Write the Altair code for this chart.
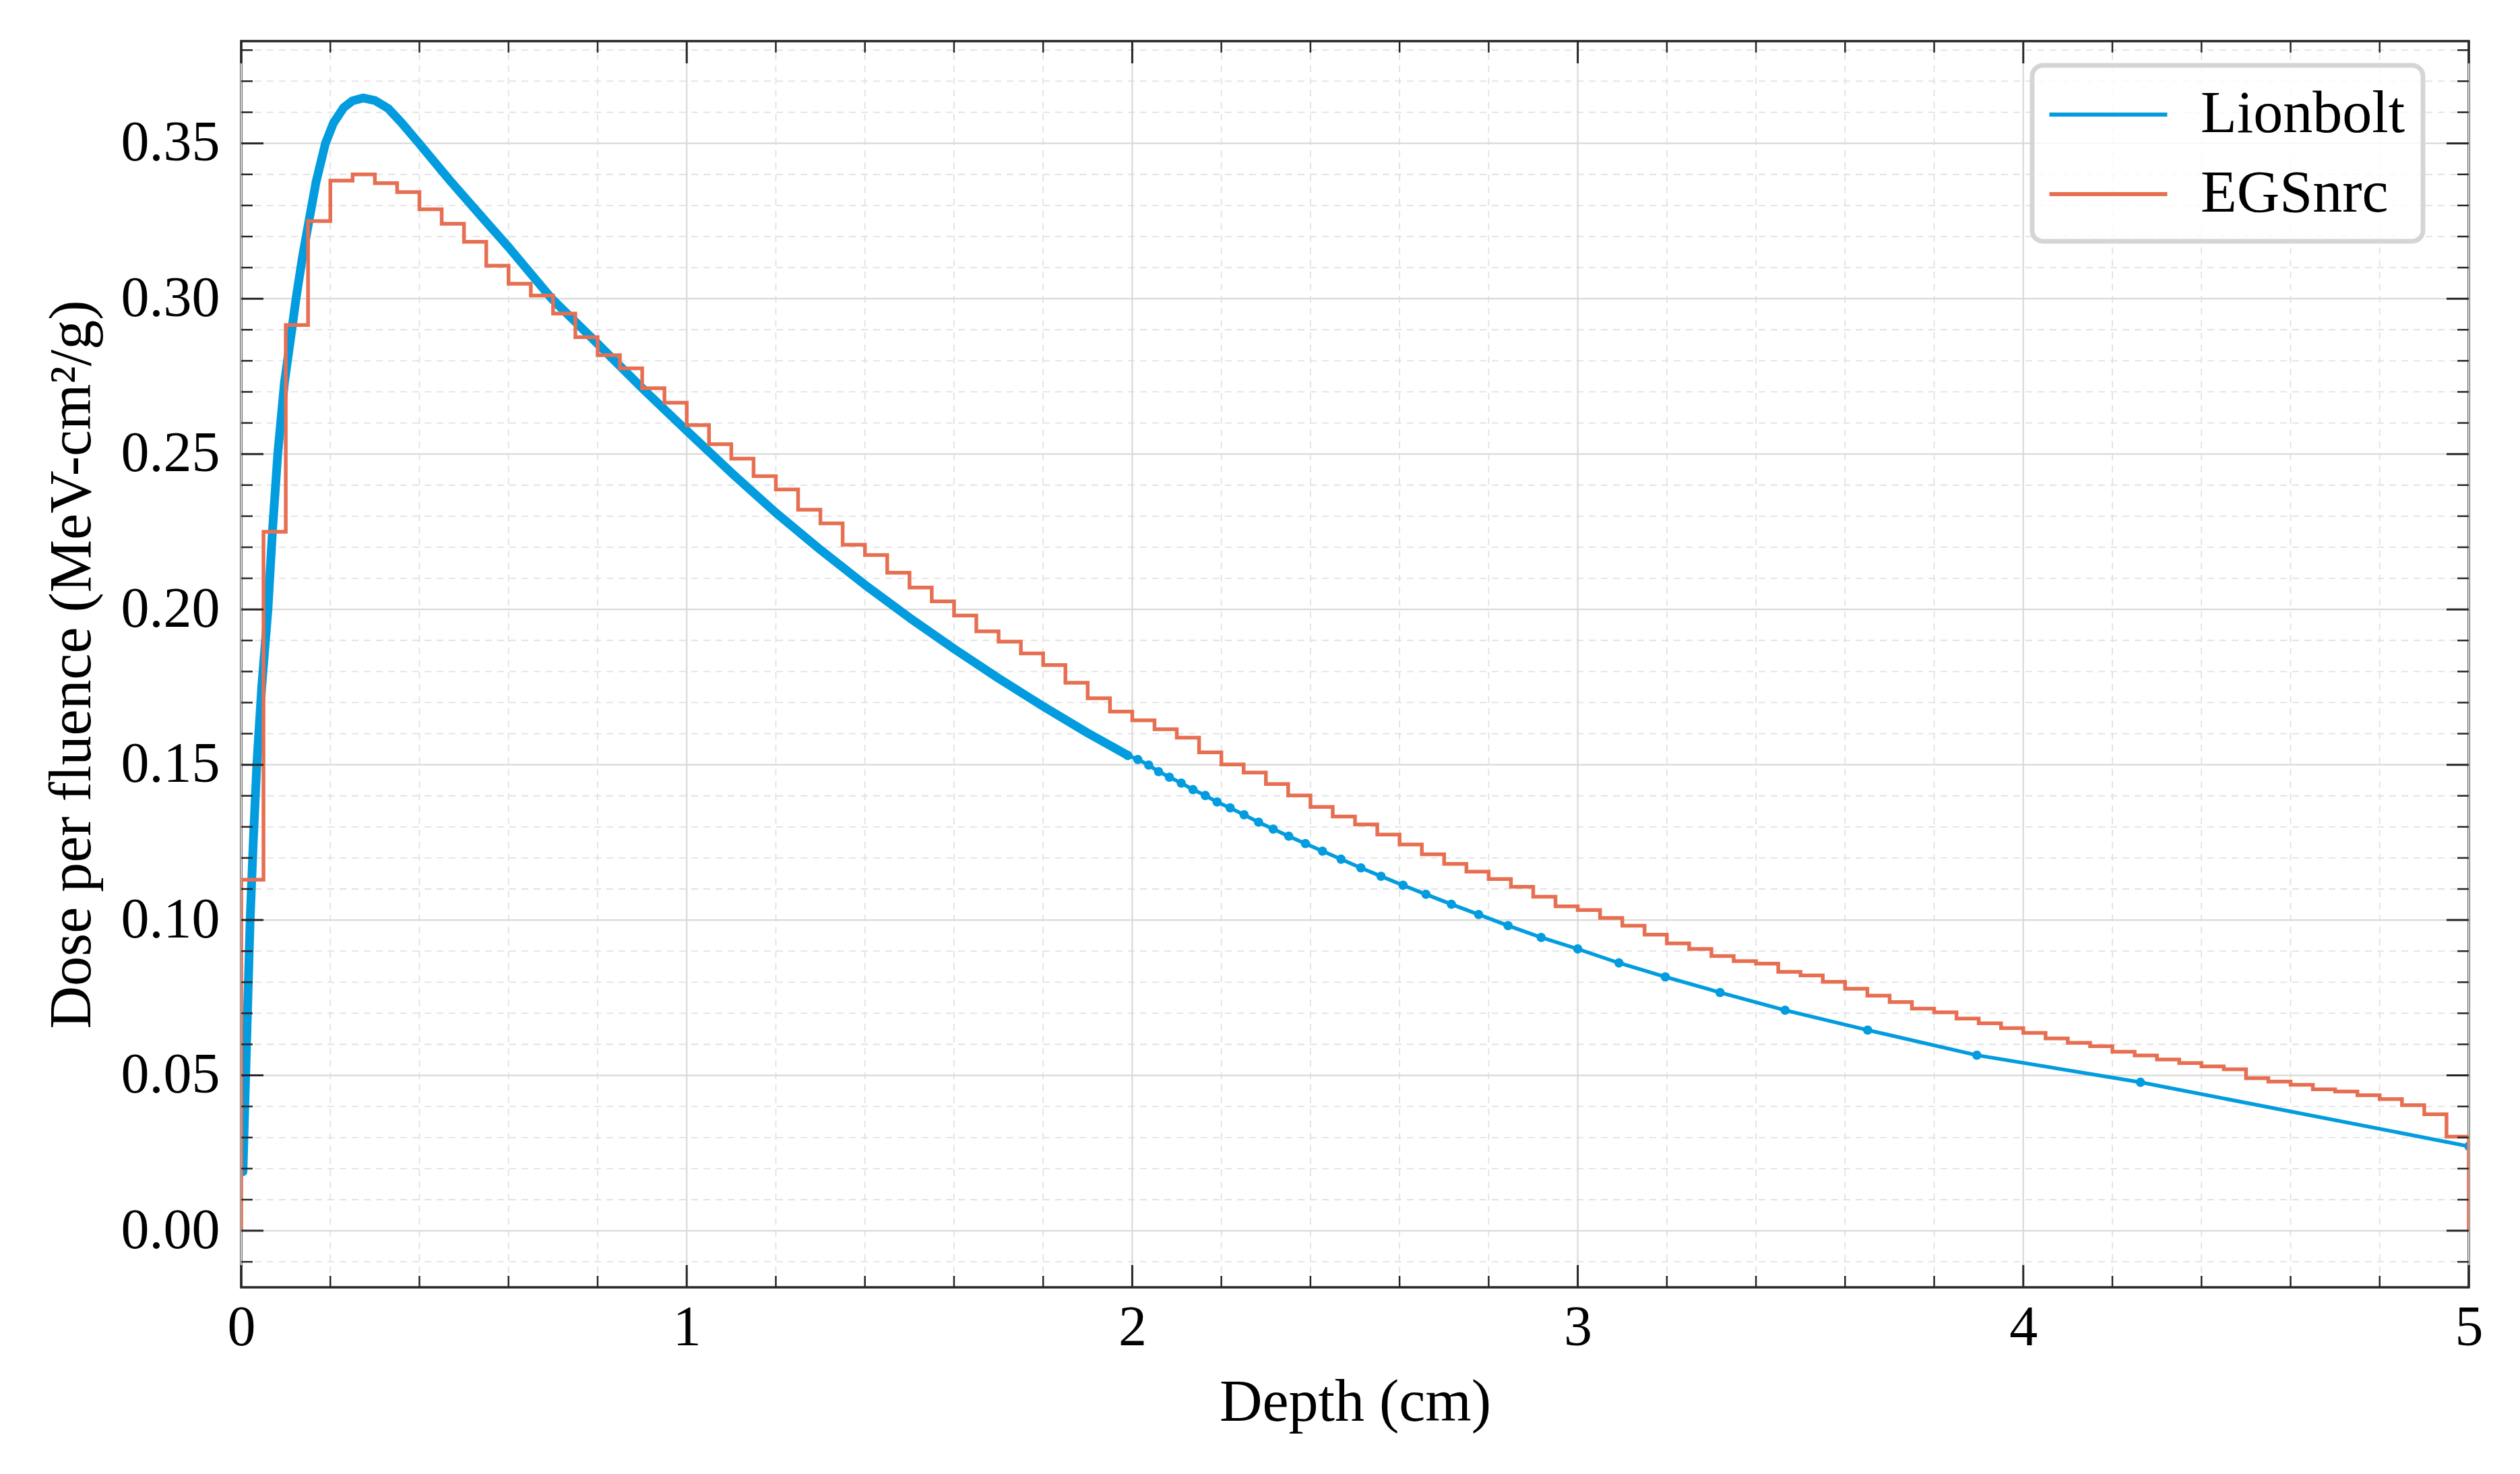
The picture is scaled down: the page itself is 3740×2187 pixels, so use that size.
import altair as alt
import pandas as pd

BLUE = "#039CDE"
ORANGE = "#E76F51"

series_names = ["Lionbolt", "EGSnrc"]

# EGSnrc histogram (0.05 cm bins from 0 to 5 cm)
egs_bin_width = 0.05
egs_dose = [
    0.113, 0.225, 0.2915, 0.325, 0.338, 0.340, 0.3372, 0.3343, 0.3288, 0.3241,
    0.3183, 0.3106, 0.3048, 0.3010, 0.2952, 0.2876, 0.2818, 0.2776, 0.2712, 0.2665,
    0.2593, 0.2532, 0.2485, 0.2429, 0.2386, 0.2321, 0.2277, 0.2208, 0.2175, 0.2118,
    0.2070, 0.2026, 0.1980, 0.1929, 0.1896, 0.1858, 0.1821, 0.1764, 0.1714, 0.1671,
    0.1643, 0.1614, 0.1587, 0.1540, 0.1501, 0.1475, 0.1438, 0.1401, 0.1364, 0.1333,
    0.1308, 0.1275, 0.1243, 0.1212, 0.1181, 0.1156, 0.1132, 0.1107, 0.1075, 0.1044,
    0.1032, 0.1007, 0.0982, 0.0953, 0.0925, 0.0907, 0.0884, 0.0868, 0.0860, 0.0833,
    0.0822, 0.0801, 0.0779, 0.0757, 0.0736, 0.0715, 0.0703, 0.0683, 0.0668, 0.0652,
    0.0637, 0.0619, 0.0605, 0.0594, 0.0576, 0.0564, 0.0551, 0.0540, 0.0529, 0.0520,
    0.0491, 0.0480, 0.0470, 0.0455, 0.0448, 0.0436, 0.0424, 0.0404, 0.0375, 0.0303,
]

# Lionbolt curve (depth in cm, dose per fluence)
lion_depth = [
    0.004, 0.007, 0.010, 0.015, 0.020, 0.027, 0.035, 0.046, 0.060, 0.070,
    0.082, 0.097, 0.115, 0.123, 0.137, 0.152, 0.168, 0.189, 0.207, 0.230,
    0.250, 0.274, 0.300, 0.330, 0.360, 0.399, 0.471, 0.548, 0.600, 0.697,
    0.800, 0.900, 1.000, 1.100, 1.200, 1.300, 1.400, 1.500, 1.600, 1.700,
    1.800, 1.900, 1.990,
    2.0125, 2.0369, 2.0591, 2.0834, 2.1099, 2.1363, 2.1641, 2.1905, 2.2198, 2.2510,
    2.2837, 2.3164, 2.3512, 2.3887, 2.4270, 2.4687, 2.5132, 2.5584, 2.6078, 2.6592,
    2.7163, 2.7775, 2.8435, 2.9179, 3.0000, 3.0924, 3.1965, 3.3194, 3.4653, 3.6507,
    3.8958, 4.263, 5.000,
]
lion_dose = [
    0.019, 0.035, 0.050, 0.075, 0.100, 0.125, 0.150, 0.175, 0.200, 0.225,
    0.250, 0.273, 0.2915, 0.300, 0.313, 0.325, 0.3376, 0.350, 0.3565, 0.3615,
    0.3637, 0.3646, 0.3638, 0.3612, 0.3566, 0.350, 0.3376, 0.325, 0.3166, 0.300,
    0.2855, 0.2712, 0.2575, 0.2440, 0.2311, 0.2192, 0.2079, 0.1973, 0.1873, 0.1778,
    0.1688, 0.1602, 0.1530,
    0.1517, 0.1499, 0.1478, 0.1460, 0.1441, 0.1420, 0.1401, 0.1380, 0.1361, 0.1339,
    0.1315, 0.1293, 0.1270, 0.1246, 0.1222, 0.1196, 0.1168, 0.1141, 0.1112, 0.1083,
    0.1051, 0.1018, 0.0982, 0.0944, 0.0907, 0.0862, 0.0817, 0.0767, 0.0710, 0.0646,
    0.0565, 0.0478, 0.0272,
]

# Axis ticks
x_major = [0, 1, 2, 3, 4, 5]
x_minor = [0.2, 0.4, 0.6, 0.8, 1.2, 1.4, 1.6, 1.8, 2.2, 2.4, 2.6, 2.8,
           3.2, 3.4, 3.6, 3.8, 4.2, 4.4, 4.6, 4.8]
y_major = [0.00, 0.05, 0.10, 0.15, 0.20, 0.25, 0.30, 0.35]
y_minor = [-0.01, 0.01, 0.02, 0.03, 0.04, 0.06, 0.07, 0.08, 0.09, 0.11, 0.12,
           0.13, 0.14, 0.16, 0.17, 0.18, 0.19, 0.21, 0.22, 0.23, 0.24, 0.26,
           0.27, 0.28, 0.29, 0.31, 0.32, 0.33, 0.34, 0.36, 0.37, 0.38]

X_DOMAIN = [0, 5]
Y_DOMAIN = [-0.0182, 0.3829]
W, H = 3306, 1849
FONT = "Liberation Serif"
TICK_COLOR = "#262626"

# ---- build tables ----
edges = [round(i * egs_bin_width, 2) for i in range(len(egs_dose) + 1)]
stairs = [{"depth": 0.0, "dose": 0.0, "k": 0}]
for i, v in enumerate(egs_dose):
    stairs.append({"depth": edges[i], "dose": v, "k": i + 1})
stairs.append({"depth": edges[-1], "dose": egs_dose[-1], "k": len(egs_dose) + 1})
stairs.append({"depth": edges[-1], "dose": 0.0, "k": len(egs_dose) + 2})
egs_df = pd.DataFrame(stairs)
egs_df["series"] = "EGSnrc"

lion_df = pd.DataFrame({"depth": lion_depth, "dose": lion_dose})
lion_df["k"] = range(len(lion_df))
lion_df["series"] = "Lionbolt"

xmaj_df = pd.DataFrame({"v": x_major})
xmin_df = pd.DataFrame({"v": x_minor})
ymaj_df = pd.DataFrame({"v": y_major})
ymin_df = pd.DataFrame({"v": y_minor})

xs = alt.Scale(domain=X_DOMAIN, nice=False, zero=False)
ys = alt.Scale(domain=Y_DOMAIN, nice=False, zero=False)

x_axis = alt.Axis(values=x_major, format="d", title="Depth (cm)", grid=False,
                  ticks=False, tickSize=0, domain=False, labelFontSize=84,
                  labelPadding=19, titleFontSize=88, titlePadding=25,
                  labelFlush=False)
y_axis = alt.Axis(values=y_major, format=".2f",
                  title="Dose per fluence (MeV-cm²/g)", grid=False,
                  ticks=False, tickSize=0, domain=False, labelFontSize=84,
                  labelPadding=32, titleFontSize=88, titlePadding=28,
                  labelFlush=False)

color_enc = alt.Color(
    "series:N",
    scale=alt.Scale(domain=series_names, range=[BLUE, ORANGE]),
    legend=alt.Legend(
        title=None, orient="none", legendX=2658, legendY=36,
        symbolType="M-2,0L2,0", symbolSize=7656, symbolStrokeWidth=6,
        symbolOffset=40, labelOffset=90, labelLimit=0,
        labelFont=FONT, labelFontSize=88, labelColor="black",
        padding=26, rowPadding=27,
        fillColor="rgba(255,255,255,0.8)", strokeColor="#d5d5d5",
        cornerRadius=16,
    ),
)

def xq(field="v"):
    return alt.X(f"{field}:Q", scale=xs, axis=x_axis)

def yq(field="v"):
    return alt.Y(f"{field}:Q", scale=ys, axis=y_axis)

# grid
g_xmin = alt.Chart(xmin_df).mark_rule(color="#e2e2e2", strokeWidth=1.8, strokeDash=[10, 8]).encode(x=xq())
g_ymin = alt.Chart(ymin_df).mark_rule(color="#e2e2e2", strokeWidth=1.8, strokeDash=[10, 8]).encode(y=yq())
g_xmaj = alt.Chart(xmaj_df).mark_rule(color="#d9d9d9", strokeWidth=2.2).encode(x=xq())
g_ymaj = alt.Chart(ymaj_df).mark_rule(color="#d9d9d9", strokeWidth=2.2).encode(y=yq())

# data layers
lion_band = alt.Chart(lion_df).transform_filter("datum.depth <= 1.995").mark_line(
    color=BLUE, strokeWidth=13, clip=True, strokeCap="round", strokeJoin="round"
).encode(x=xq("depth"), y=yq("dose"), order="k:Q")
lion_line = alt.Chart(lion_df).mark_line(strokeWidth=5.5, clip=True).encode(
    x=xq("depth"), y=yq("dose"), color=color_enc, order="k:Q")
lion_pts = alt.Chart(lion_df).transform_filter("datum.depth >= 1.99").mark_circle(
    color=BLUE, size=190, opacity=1, clip=True
).encode(x=xq("depth"), y=yq("dose"))
egs_line = alt.Chart(egs_df).mark_line(strokeWidth=5.5, interpolate="step-after", clip=True).encode(
    x=xq("depth"), y=yq("dose"), color=color_enc, order="k:Q")

# ticks (inward, all four sides)
def xticks(df, length, width):
    bottom = alt.Chart(df).mark_rule(color=TICK_COLOR, strokeWidth=width).encode(
        x=xq(), y=alt.value(H), y2=alt.value(H - length))
    top = alt.Chart(df).mark_rule(color=TICK_COLOR, strokeWidth=width).encode(
        x=xq(), y=alt.value(0), y2=alt.value(length))
    return [bottom, top]

def yticks(df, length, width):
    left = alt.Chart(df).mark_rule(color=TICK_COLOR, strokeWidth=width).encode(
        y=yq(), x=alt.value(0), x2=alt.value(length))
    right = alt.Chart(df).mark_rule(color=TICK_COLOR, strokeWidth=width).encode(
        y=yq(), x=alt.value(W), x2=alt.value(W - length))
    return [left, right]

tick_layers = (xticks(xmaj_df, 33, 3) + xticks(xmin_df, 17, 2.5)
               + yticks(ymaj_df, 33, 3) + yticks(ymin_df, 17, 2.5))

chart = alt.layer(
    g_xmin, g_ymin, g_xmaj, g_ymaj,
    lion_band, lion_line, lion_pts, egs_line,
    *tick_layers,
).properties(
    width=W, height=H,
    padding={"left": 55, "top": 51, "right": 10, "bottom": 10},
    background="white",
).configure_view(
    stroke=TICK_COLOR, strokeWidth=3.5,
).configure_axis(
    labelFont=FONT, titleFont=FONT, labelColor="black", titleColor="black",
    titleFontWeight="normal",
).configure_legend(
    strokeWidth=7,
)

chart.save("out.html", embed_options={"renderer": "svg", "actions": False})
